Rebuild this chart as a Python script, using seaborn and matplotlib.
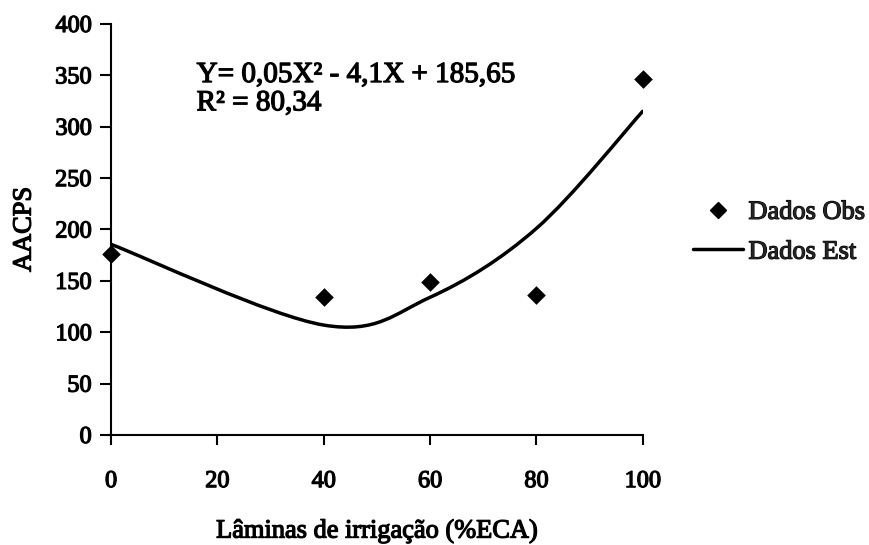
import numpy as np
import pandas as pd
import matplotlib
matplotlib.use("Agg")
import matplotlib.pyplot as plt
import seaborn as sns
from matplotlib.path import Path
from matplotlib.patches import PathPatch
from matplotlib.lines import Line2D
import matplotlib.patheffects as pe

# Irrigation depths (% ECA)
laminas = [0, 40, 60, 80, 100]
# Observed AACPS
aacps_obs = [176, 134.5, 148.5, 136, 346.5]
# Estimated AACPS (fitted curve)
aacps_est = [185.6, 107, 134, 201, 315]

x_ticks = [0, 20, 40, 60, 80, 100]
y_ticks = [0, 50, 100, 150, 200, 250, 300, 350, 400]

sns.set_theme(style="white")
plt.rcParams["font.family"] = ["Liberation Serif", "DejaVu Serif"]

thick = [pe.withStroke(linewidth=0.9, foreground="black")]

fig = plt.figure(figsize=(8.7, 5.45), dpi=100)
ax = fig.add_axes([0.1276, 0.2018, 0.6111, 0.7542])

df_obs = pd.DataFrame({"x": laminas, "y": aacps_obs})
sns.scatterplot(data=df_obs, x="x", y="y", marker="D", s=90, color="black",
                edgecolor="black", linewidth=0, ax=ax, zorder=3, clip_on=False)

# Smooth curve through the estimated values (Catmull-Rom as cubic Bezier segments)
pts = np.column_stack([laminas, aacps_est]).astype(float)
n = len(pts)
verts = [tuple(pts[0])]
codes = [Path.MOVETO]
for i in range(n - 1):
    p_prev = pts[max(i - 1, 0)]
    p0 = pts[i]
    p1 = pts[i + 1]
    p_next = pts[min(i + 2, n - 1)]
    c1 = p0 + (p1 - p_prev) / 6.0
    c2 = p1 - (p_next - p0) / 6.0
    verts += [tuple(c1), tuple(c2), tuple(p1)]
    codes += [Path.CURVE4, Path.CURVE4, Path.CURVE4]
curve = PathPatch(Path(verts, codes), facecolor="none", edgecolor="black",
                  linewidth=2.5, transform=ax.transData, zorder=2,
                  capstyle="round", joinstyle="round")
ax.add_patch(curve)

ax.set_xlim(0, 100)
ax.set_ylim(0, 400)
ax.set_xticks(x_ticks)
ax.set_yticks(y_ticks)
ax.set_xticklabels([str(v) for v in x_ticks])
ax.set_yticklabels([str(v) for v in y_ticks])

for side in ["top", "right"]:
    ax.spines[side].set_visible(False)
for side in ["left", "bottom"]:
    ax.spines[side].set_color("black")
    ax.spines[side].set_linewidth(1.5)

ax.tick_params(axis="y", direction="out", length=8, width=1.5, color="black",
               labelsize=17.5, pad=6, left=True)
ax.tick_params(axis="x", direction="out", length=7, width=1.5, color="black",
               labelsize=17.5, pad=19, bottom=True)
for lab in ax.get_xticklabels() + ax.get_yticklabels():
    lab.set_path_effects(thick)
    lab.set_color("black")

ax.set_xlabel("Lâminas de irrigação (%ECA)", fontsize=19, color="black", labelpad=20)
ax.set_ylabel("AACPS", fontsize=19, color="black", labelpad=14)
ax.xaxis.label.set_path_effects(thick)
ax.yaxis.label.set_path_effects(thick)

ax.text(16.1, 343.5, "Y= 0,05X² - 4,1X + 185,65", fontsize=21, color="black",
        va="baseline", ha="left", path_effects=thick)
ax.text(16.1, 316, "R² = 80,34", fontsize=21, color="black",
        va="baseline", ha="left", path_effects=thick)

handles = [
    Line2D([], [], marker="D", linestyle="none", color="black", markersize=8.5),
    Line2D([], [], color="black", linewidth=2.5),
]
leg = ax.legend(handles, ["Dados Obs", "Dados Est"], loc="center left",
                bbox_to_anchor=(0.7966, 0.5743), bbox_transform=fig.transFigure,
                frameon=False, fontsize=19, borderpad=0, borderaxespad=0,
                handlelength=1.9, handletextpad=0.2, labelspacing=0.62)
for t in leg.get_texts():
    t.set_path_effects(thick)

fig.savefig("out.png", dpi=100, facecolor="white")
